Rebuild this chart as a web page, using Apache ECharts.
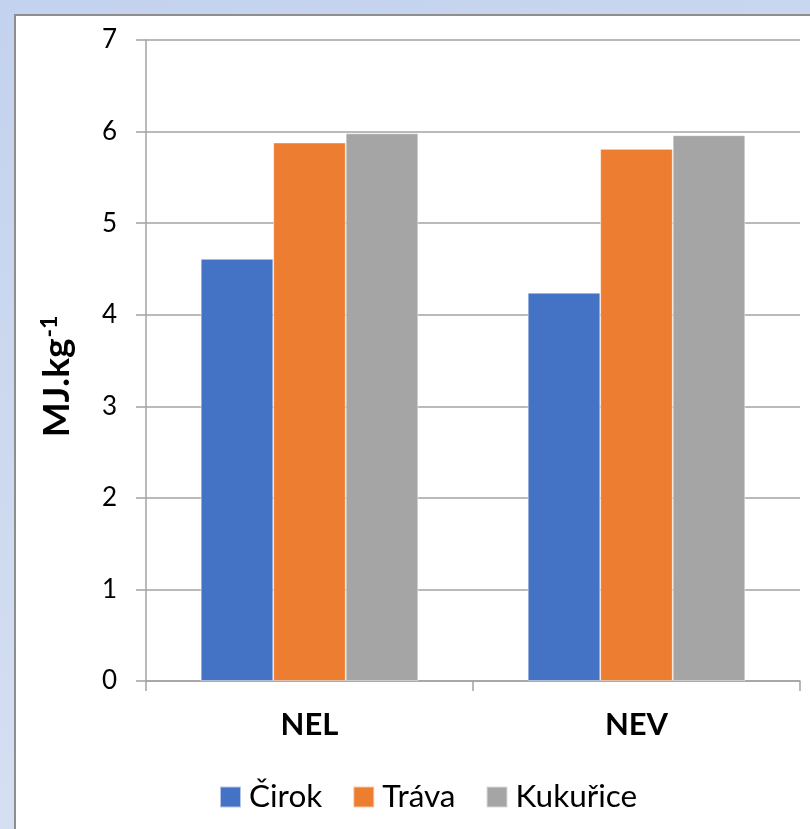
<!DOCTYPE html>
<html>
<head>
<meta charset="utf-8">
<script src="https://cdn.jsdelivr.net/npm/echarts@6/dist/echarts.min.js"></script>
<style>
  html, body { margin: 0; padding: 0; }
  #chart { width: 810px; height: 829px; }
</style>
</head>
<body>
<div id="chart"></div>
<script>
// Energy values (MJ per kg) of three forages, for NEL and NEV
const categories = ['NEL', 'NEV'];
const cirok = [4.61, 4.24];
const trava = [5.88, 5.81];
const kukurice = [5.98, 5.96];
const seriesNames = ['Čirok', 'Tráva', 'Kukuřice'];
const yTicks = { min: 0, max: 7, interval: 1 };

const colors = ['#4472C4', '#ED7D31', '#A5A5A5'];
const font = 'Lato, "Noto Sans", sans-serif';
const lineColor = '#a3a3a3';

const chart = echarts.init(document.getElementById('chart'));

const makeSeries = (name, data, i) => ({
  name: name,
  type: 'bar',
  data: data,
  barGap: '0%',
  barCategoryGap: '33.5%',
  itemStyle: { color: colors[i], borderColor: 'rgba(255,255,255,0.6)', borderWidth: 0.8 }
});

chart.setOption({
  backgroundColor: {
    type: 'linear', x: 0, y: 0, x2: 0.3, y2: 1,
    colorStops: [
      { offset: 0, color: '#c3d2ee' },
      { offset: 1, color: '#d6e0f2' }
    ]
  },
  graphic: [{
    type: 'rect',
    z: -10,
    shape: { x: 15, y: 15, width: 820, height: 840 },
    style: { fill: '#ffffff', stroke: '#8e8e8e', lineWidth: 2 }
  }],
  textStyle: { fontFamily: font },
  grid: { left: 146, right: 10, top: 40, bottom: 148, containLabel: false },
  legend: {
    data: seriesNames,
    top: 776,
    left: 214,
    icon: 'rect',
    itemWidth: 21,
    itemHeight: 21,
    itemGap: 30,
    textStyle: { fontFamily: font, fontSize: 31.5, color: '#000', padding: [0, 0, 0, 3] }
  },
  xAxis: {
    type: 'category',
    data: categories,
    axisLine: { show: true, lineStyle: { color: lineColor, width: 1.5 } },
    axisTick: { show: true, alignWithLabel: false, length: 10, lineStyle: { color: lineColor, width: 1.5 } },
    axisLabel: { fontFamily: font, fontSize: 31, fontWeight: 'bold', color: '#000', margin: 28 }
  },
  yAxis: {
    type: 'value',
    min: yTicks.min,
    max: yTicks.max,
    interval: yTicks.interval,
    name: '{a|MJ.kg}{b|-1}',
    nameLocation: 'middle',
    nameRotate: 90,
    nameGap: 70,
    nameTextStyle: {
      padding: [0, 32, 0, 0],
      rich: {
        a: { fontFamily: font, fontSize: 37, fontWeight: 'bold', color: '#000' },
        b: { fontFamily: font, fontSize: 23, fontWeight: 'bold', color: '#000', verticalAlign: 'top', padding: [0, 0, 15, 1] }
      }
    },
    axisLine: { show: true, lineStyle: { color: lineColor, width: 1.5 } },
    axisTick: { show: true, length: 10, lineStyle: { color: lineColor, width: 1.5 } },
    splitLine: { show: true, lineStyle: { color: lineColor, width: 1.5 } },
    axisLabel: { fontFamily: font, fontSize: 26, color: '#000', margin: 29 }
  },
  series: [
    makeSeries(seriesNames[0], cirok, 0),
    makeSeries(seriesNames[1], trava, 1),
    makeSeries(seriesNames[2], kukurice, 2)
  ]
});
</script>
</body>
</html>
